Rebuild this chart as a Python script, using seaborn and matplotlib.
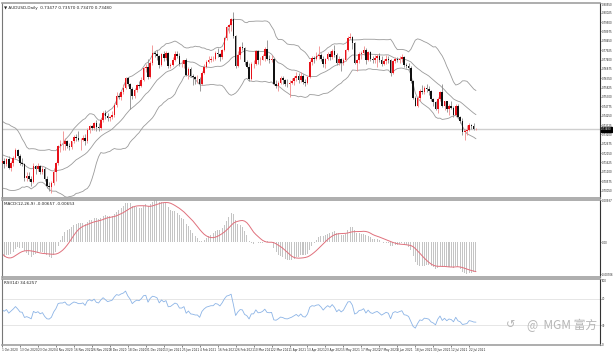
import numpy as np
import pandas as pd
import matplotlib
matplotlib.use("Agg")
import matplotlib.pyplot as plt
import matplotlib.transforms as mtransforms
import seaborn as sns

# ---------------- data (price x 10000) ----------------
warmup_close = [7195, 7240, 7185, 7190, 7160, 7175, 7200, 7230, 7260, 7360, 7375,
                7390, 7310, 7275, 7285, 7270, 7215, 7275, 7255, 7280, 7300, 7315,
                7325, 7290, 7290, 7220, 7135, 7055, 7060, 7035, 7080, 7130, 7160]

open_ = [
    # Oct 2020
    7160, 7173, 7155, 7180, 7130, 7160, 7190, 7230, 7200, 7160, 7155, 7075, 7085, 7070, 7050, 7145, 7125, 7140, 7110, 7125, 7070, 7030,
    # Nov
    7025, 7045, 7110, 7160, 7255, 7265, 7265, 7285, 7255, 7250, 7280, 7305, 7300, 7290, 7290, 7300, 7280, 7345, 7365, 7355, 7385,
    # Dec
    7360, 7355, 7400, 7440, 7425, 7410, 7420, 7430, 7485, 7535, 7530, 7560, 7580, 7635, 7600, 7575, 7535, 7570, 7595, 7590, 7625, 7690,
    # Jan 2021
    7700, 7640, 7720, 7775, 7770, 7760, 7710, 7770, 7750, 7775, 7705, 7710, 7740, 7770, 7760, 7715, 7715, 7735, 7655, 7685,
    # Feb
    7645, 7640, 7630, 7630, 7600, 7665, 7700, 7725, 7735, 7745, 7745, 7775, 7770, 7755, 7795, 7860, 7920, 7935, 7965, 7870,
    # Mar
    7705, 7765, 7810, 7805, 7725, 7700, 7630, 7715, 7715, 7790, 7735, 7740, 7760, 7800, 7745, 7740, 7745, 7600, 7590, 7610, 7635, 7625, 7605,
    # Apr
    7600, 7610, 7620, 7635, 7650, 7625, 7650, 7615, 7610, 7640, 7725, 7750, 7745, 7760, 7765, 7745, 7715, 7745, 7770, 7755, 7790, 7765,
    # May
    7720, 7745, 7720, 7740, 7795, 7860, 7865, 7830, 7720, 7735, 7770, 7775, 7795, 7740, 7780, 7745, 7735, 7750, 7760, 7740, 7715,
    # Jun
    7730, 7745, 7735, 7665, 7730, 7745, 7735, 7745, 7755, 7710, 7705, 7690, 7620, 7525, 7480, 7525, 7565, 7555, 7580, 7575, 7565, 7520,
    # Jul
    7500, 7465, 7520, 7555, 7480, 7505, 7460, 7480, 7470, 7430, 7480, 7415, 7395, 7335, 7340, 7345, 7375, 7365, 7348,
]
high = [
    7210, 7190, 7190, 7200, 7170, 7200, 7245, 7240, 7210, 7190, 7160, 7110, 7110, 7085, 7160, 7150, 7160, 7150, 7140, 7135, 7085, 7050,
    7060, 7130, 7165, 7260, 7290, 7340, 7300, 7290, 7270, 7285, 7315, 7320, 7340, 7300, 7315, 7320, 7355, 7375, 7370, 7390, 7400,
    7385, 7410, 7450, 7455, 7440, 7425, 7450, 7495, 7560, 7550, 7565, 7600, 7640, 7640, 7610, 7585, 7580, 7605, 7620, 7640, 7700, 7715,
    7745, 7730, 7820, 7790, 7795, 7765, 7775, 7790, 7790, 7780, 7720, 7755, 7785, 7790, 7775, 7735, 7740, 7750, 7700, 7700,
    7660, 7650, 7655, 7640, 7675, 7715, 7740, 7760, 7760, 7760, 7790, 7805, 7775, 7800, 7865, 7930, 7940, 7975, 8007, 7880,
    7785, 7815, 7840, 7810, 7740, 7720, 7725, 7735, 7795, 7795, 7755, 7770, 7810, 7849, 7765, 7765, 7750, 7625, 7620, 7650, 7645, 7630, 7630,
    7625, 7635, 7645, 7670, 7665, 7670, 7660, 7630, 7645, 7740, 7760, 7760, 7780, 7815, 7775, 7760, 7750, 7780, 7785, 7800, 7820, 7775,
    7760, 7750, 7750, 7800, 7870, 7891, 7870, 7840, 7745, 7780, 7790, 7815, 7805, 7790, 7790, 7760, 7765, 7770, 7775, 7760, 7745,
    7765, 7760, 7745, 7735, 7755, 7755, 7760, 7770, 7760, 7720, 7720, 7705, 7625, 7535, 7535, 7575, 7597, 7590, 7600, 7590, 7570, 7525,
    7510, 7530, 7565, 7600, 7510, 7510, 7490, 7505, 7480, 7490, 7490, 7425, 7410, 7350, 7370, 7385, 7380, 7385, 7357,
]
low = [
    7140, 7130, 7140, 7125, 7115, 7145, 7180, 7190, 7150, 7140, 7060, 7060, 7060, 7030, 7045, 7100, 7115, 7095, 7095, 7060, 7020, 7000,
    6991, 7035, 7060, 7150, 7220, 7235, 7230, 7245, 7230, 7240, 7270, 7285, 7280, 7235, 7285, 7260, 7270, 7330, 7345, 7345, 7340,
    7340, 7345, 7390, 7405, 7395, 7395, 7405, 7420, 7475, 7520, 7515, 7545, 7575, 7590, 7462, 7520, 7525, 7560, 7580, 7585, 7620, 7670,
    7630, 7635, 7710, 7755, 7735, 7690, 7705, 7730, 7740, 7690, 7690, 7705, 7730, 7750, 7705, 7700, 7695, 7645, 7630, 7640,
    7595, 7605, 7610, 7563, 7595, 7660, 7690, 7720, 7725, 7730, 7740, 7755, 7730, 7745, 7790, 7850, 7890, 7900, 7860, 7695,
    7700, 7745, 7795, 7710, 7690, 7622, 7625, 7690, 7710, 7715, 7710, 7735, 7730, 7740, 7720, 7725, 7595, 7580, 7563, 7600, 7605, 7590, 7585,
    7532, 7600, 7595, 7620, 7610, 7615, 7605, 7590, 7600, 7635, 7710, 7720, 7735, 7745, 7730, 7700, 7690, 7740, 7740, 7745, 7755, 7710,
    7710, 7675, 7710, 7730, 7785, 7855, 7800, 7715, 7675, 7720, 7745, 7765, 7715, 7730, 7730, 7720, 7720, 7700, 7725, 7705, 7710,
    7715, 7720, 7650, 7660, 7720, 7725, 7720, 7725, 7700, 7690, 7680, 7610, 7520, 7477, 7475, 7510, 7545, 7545, 7560, 7540, 7505, 7480,
    7455, 7440, 7510, 7475, 7455, 7445, 7430, 7460, 7420, 7425, 7410, 7385, 7315, 7289, 7315, 7340, 7350, 7345, 7347,
]
close = [
    7173, 7155, 7180, 7130, 7160, 7190, 7230, 7200, 7160, 7155, 7075, 7085, 7070, 7050, 7145, 7125, 7140, 7110, 7125, 7070, 7030, 7025,
    7045, 7110, 7160, 7255, 7265, 7265, 7285, 7255, 7250, 7280, 7305, 7300, 7290, 7290, 7300, 7280, 7345, 7365, 7355, 7385, 7360,
    7355, 7400, 7440, 7425, 7410, 7420, 7430, 7485, 7535, 7530, 7560, 7580, 7635, 7600, 7575, 7535, 7570, 7595, 7590, 7625, 7690, 7700,
    7640, 7720, 7775, 7770, 7760, 7710, 7770, 7750, 7775, 7705, 7710, 7740, 7770, 7760, 7715, 7715, 7735, 7655, 7685, 7645,
    7640, 7630, 7630, 7600, 7665, 7700, 7725, 7735, 7745, 7745, 7775, 7770, 7755, 7795, 7860, 7920, 7935, 7965, 7870, 7705,
    7765, 7810, 7805, 7725, 7700, 7630, 7715, 7715, 7790, 7735, 7740, 7760, 7800, 7745, 7740, 7745, 7600, 7590, 7610, 7635, 7625, 7605, 7600,
    7610, 7620, 7635, 7650, 7625, 7650, 7615, 7610, 7640, 7725, 7750, 7745, 7760, 7765, 7745, 7715, 7745, 7770, 7755, 7790, 7765, 7720,
    7745, 7720, 7740, 7795, 7860, 7865, 7830, 7720, 7735, 7770, 7775, 7795, 7740, 7780, 7745, 7735, 7750, 7760, 7740, 7715, 7730,
    7745, 7735, 7665, 7730, 7745, 7735, 7745, 7755, 7710, 7705, 7690, 7620, 7525, 7480, 7525, 7565, 7555, 7580, 7575, 7565, 7520, 7500,
    7465, 7520, 7555, 7480, 7505, 7460, 7480, 7470, 7430, 7480, 7415, 7395, 7335, 7340, 7345, 7375, 7365, 7350, 7348,
]
holidays = ["2020-12-25", "2021-01-01"]
dates = [d for d in pd.bdate_range("2020-10-01", "2021-07-27")
         if d.strftime("%Y-%m-%d") not in holidays]
assert len(open_) == len(high) == len(low) == len(close) == len(dates), \
    (len(open_), len(high), len(low), len(close), len(dates))

n = len(close)
tick_idx = list(range(0, n, 8))
tick_labels = [f"{dates[i].day} {dates[i]:%b %Y}" for i in tick_idx]

# ---------------- indicators ----------------
s = pd.Series(np.array(warmup_close + close) / 1e4)
mid = s.rolling(20).mean()
sd = s.rolling(20).std(ddof=0)
ema12 = s.ewm(span=12, adjust=False).mean()
ema26 = s.ewm(span=26, adjust=False).mean()
macd = ema12 - ema26
signal = macd.rolling(9).mean()
d = s.diff()
ag = d.clip(lower=0).ewm(alpha=1 / 14, adjust=False).mean()
al = (-d.clip(upper=0)).ewm(alpha=1 / 14, adjust=False).mean()
rsi = 100 - 100 / (1 + ag / al)
k = len(warmup_close)

df = pd.DataFrame({
    "i": np.arange(n),
    "open": np.array(open_) / 1e4, "high": np.array(high) / 1e4,
    "low": np.array(low) / 1e4, "close": np.array(close) / 1e4,
    "bb_mid": mid.values[k:], "bb_up": (mid + 2 * sd).values[k:],
    "bb_lo": (mid - 2 * sd).values[k:],
    "macd": macd.values[k:], "signal": signal.values[k:], "rsi": rsi.values[k:],
})

# ---------------- figure ----------------
sns.set_style("white")
plt.rcParams["font.family"] = ["DejaVu Sans"]
W, H = 613, 353
fig = plt.figure(figsize=(W / 100, H / 100), dpi=100)
fig.patch.set_facecolor("white")

def box(top, bottom, left=2, right=600):
    return [left / W, 1 - bottom / H, (right - left) / W, (bottom - top) / H]

ax1 = fig.add_axes(box(3, 198))
ax2 = fig.add_axes(box(200, 277), sharex=ax1)
ax3 = fig.add_axes(box(279, 345), sharex=ax1)

up = df["close"] >= df["open"]
RED, BLK = "#e8121a", "#111111"
wick_cols = np.where(up, "#f08a8a", "#8a8a8a")
ax1.vlines(df["i"], df["low"], df["high"], colors=wick_cols, lw=0.6, zorder=2)
body_h = (df["close"] - df["open"]).abs().clip(lower=0.00004)
body_b = np.minimum(df["open"], df["close"])
ax1.bar(df["i"], body_h, bottom=body_b, width=0.7,
        color=np.where(up, RED, BLK), linewidth=0, zorder=3)

for col in ["bb_up", "bb_mid", "bb_lo"]:
    sns.lineplot(data=df, x="i", y=col, ax=ax1, color="#9a9a9a", lw=0.6, zorder=1)

last = df["close"].iloc[-1]
ax1.axhline(last, color="#cfcfcf", lw=1.0, zorder=0)
ax1.set_ylim(0.6963, 0.8057)
yt = np.arange(0.80550, 0.6963, -0.00525)
ax1.set_yticks(yt)
ax1.set_yticklabels([f"{v:.5f}" for v in yt])
trans = mtransforms.blended_transform_factory(ax1.transAxes, ax1.transData)
ax1.text(1.002, last, f"{last:.5f}", transform=trans, fontsize=1.9, color="white",
         va="center", ha="left",
         bbox=dict(boxstyle="square,pad=0.12", fc="black", ec="black"))
ax1.text(0.004, 0.985, "\u25BC AUDUSD,Daily  0.73477 0.73570 0.73470 0.73480",
         transform=ax1.transAxes, fontsize=3, va="top", ha="left", color="#222222")

# MACD
ax2.bar(df["i"], df["macd"], width=0.45, color="#c4c4c4", linewidth=0)
sns.lineplot(data=df, x="i", y="signal", ax=ax2, color="#e0707c", lw=0.7)
mlo = min(df["macd"].min(), df["signal"].min())
mhi = max(df["macd"].max(), df["signal"].max())
ax2.set_ylim(mlo - 0.04 * (mhi - mlo), mhi)
ax2.set_yticks([mhi, 0, mlo])
ax2.set_yticklabels([f"{mhi:.5f}", "0.00", f"{mlo:.5f}"])
ax2.text(0.004, 0.97,
         f"MACD(12,26,9) {df['macd'].iloc[-1]:.5f} {df['signal'].iloc[-1]:.5f}",
         transform=ax2.transAxes, fontsize=3, va="top", ha="left", color="#222222")

# RSI
sns.lineplot(data=df, x="i", y="rsi", ax=ax3, color="#8cb4e6", lw=0.6)
for lv in (30, 70):
    ax3.axhline(lv, color="#e2e2e2", lw=0.6, zorder=0)
ax3.set_ylim(0, 100)
ax3.set_yticks([100, 70, 30, 0])
ax3.set_yticklabels(["100", "70", "30", "0"])
ax3.text(0.004, 0.97, f"RSI(14) {df['rsi'].iloc[-1]:.4f}",
         transform=ax3.transAxes, fontsize=3, va="top", ha="left", color="#222222")

ax1.set_xlim((2 - 1) / 2.25, (600 - 1) / 2.25)
for ax in (ax1, ax2, ax3):
    ax.set_xlabel("")
    ax.set_ylabel("")
    ax.yaxis.tick_right()
    ax.tick_params(axis="y", labelsize=1.9, length=0.8, width=0.4, pad=0.3,
                   colors="#222222", right=True)
    ax.tick_params(axis="x", bottom=False, labelbottom=False)
    ax.spines["right"].set_color("#333333")
    ax.spines["right"].set_linewidth(0.8)
    ax.spines["left"].set_color("#777777")
    ax.spines["left"].set_linewidth(0.8)
    ax.spines["top"].set_color("#a0a0a0")
    ax.spines["bottom"].set_color("#a0a0a0")
    ax.spines["top"].set_linewidth(1.2)
    ax.spines["bottom"].set_linewidth(1.2)
    if ax.get_legend():
        ax.get_legend().remove()
ax3.yaxis.get_majorticklabels()[0].set_va("top")
ax1.yaxis.get_majorticklabels()[0].set_va("top")

ax3.set_xticks(tick_idx)
ax3.set_xticklabels(tick_labels, ha="left")
ax3.tick_params(axis="x", bottom=True, labelbottom=True, labelsize=2.1,
                length=1.5, width=0.4, pad=0.8, colors="#222222")

# watermark
fig.text(511 / W, 1 - 325 / H, "\u21BA", fontsize=8, color="#b5b5b5",
         ha="center", va="center", family=["DejaVu Sans"])
fig.text(597 / W, 1 - 325 / H, "@  MGM 富方", fontsize=8.5, color="#b5b5b5",
         ha="right", va="center", family=["Noto Sans CJK SC", "DejaVu Sans"])

fig.savefig("out.png", dpi=100, facecolor="white")
